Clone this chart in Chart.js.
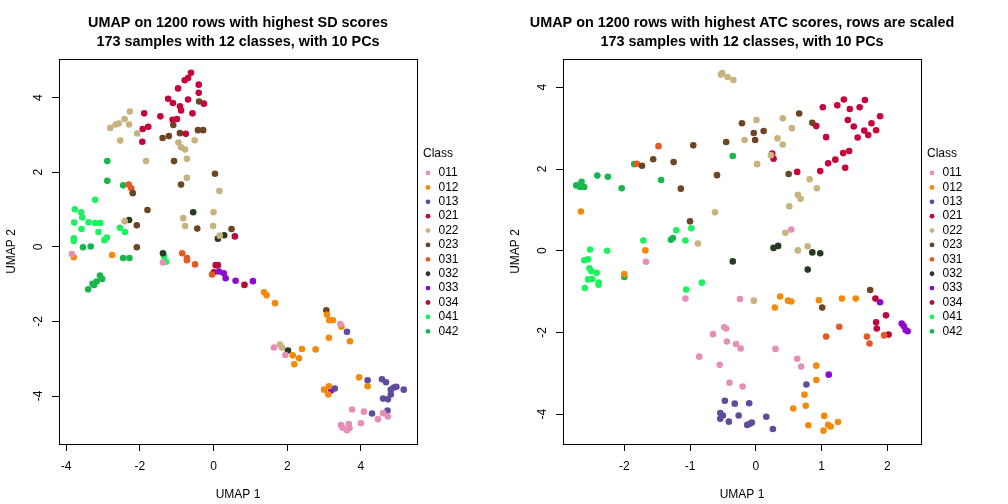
<!DOCTYPE html>
<html>
<head>
<meta charset="utf-8">
<script src="https://cdn.jsdelivr.net/npm/chart.js@4.4.0/dist/chart.umd.min.js"></script>
<style>
html, body { margin: 0; padding: 0; background: #fff; }
#wrap { position: relative; width: 1008px; height: 504px; }
canvas { position: absolute; top: 0; }
</style>
</head>
<body>
<div id="wrap">
  <canvas id="sdCanvas" width="504" height="504" style="left:0"></canvas>
  <canvas id="atcCanvas" width="504" height="504" style="left:504px"></canvas>
</div>
<script>
// classes and colours
const classes = ['011', '012', '013', '021', '022', '023', '031', '032', '033', '034', '041', '042'];
const classColors = ['#E68FB6', '#F58A0A', '#5F4C9E', '#C4063C', '#C8B27F', '#6E4522',
                     '#E35B22', '#283A26', '#8C0AD0', '#BA073C', '#1CF25E', '#19B64C'];

// left panel: UMAP on SD rows
const sd011 = [[-3.84,-0.19],[-1.37,-0.42],[1.64,-2.70],[1.95,-2.90],[3.44,-2.07],[3.76,-4.36],[4.08,-4.42],[3.46,-4.78],[3.50,-4.85],[3.67,-4.75],[3.62,-4.92],[3.69,-4.86],[4.00,-4.73],[4.46,-4.62],[4.60,-4.46],[4.73,-4.55]];
const sd012 = [[-3.79,-0.28],[-2.75,-0.22],[1.37,-1.22],[1.44,-1.30],[1.67,-1.51],[3.08,-1.82],[3.14,-1.97],[3.24,-1.97],[3.47,-2.14],[3.13,-2.44],[3.70,-2.53],[2.40,-2.74],[2.77,-2.75],[2.15,-2.91],[2.32,-2.99],[2.19,-3.15],[3.95,-3.50],[4.18,-3.74],[3.13,-3.74],[3.00,-3.83],[3.11,-3.96]];
const sd013 = [[3.62,-2.28],[4.18,-3.58],[4.57,-3.55],[4.68,-3.63],[4.81,-3.83],[4.89,-3.77],[4.96,-3.75],[5.16,-3.83],[4.81,-3.96],[4.60,-4.07],[4.73,-4.09],[3.29,-3.80],[4.30,-4.47],[4.72,-4.39]];
const sd021 = [[-0.61,4.67],[-0.69,4.53],[-0.78,4.47],[-0.96,4.25],[-0.40,4.35],[-0.40,4.13],[-1.23,3.97],[-1.10,3.86],[-0.69,3.95],[-0.91,3.77],[-0.26,3.84],[-0.88,3.66],[-0.57,3.58],[-1.88,3.58],[-1.44,3.50],[-1.11,3.41],[-0.99,3.43],[-1.77,3.22],[-1.92,3.16],[-0.75,3.03],[-1.93,2.82]];
const sd022 = [[-2.27,3.63],[-2.41,3.43],[-2.57,3.31],[-2.65,3.28],[-2.29,3.28],[-2.80,3.19],[-2.07,3.04],[-2.53,2.85],[-0.95,2.80],[-0.88,2.67],[-0.77,2.61],[-0.51,2.86],[-0.72,2.36],[-1.83,2.30],[-0.72,1.85],[0.16,1.50],[-0.82,0.77],[-0.77,0.56],[0.00,0.93],[-0.01,0.56],[-2.41,0.69],[0.17,0.30],[1.80,-2.62],[1.86,-2.70]];
const sd023 = [[-0.39,3.90],[-1.09,3.27],[-0.91,3.05],[-1.38,2.92],[-1.21,2.97],[-0.42,3.13],[-0.28,3.13],[-1.07,2.30],[0.04,1.96],[-0.88,1.67],[-2.19,1.44],[-1.79,0.99],[-2.08,0.58],[-0.44,0.49],[0.49,0.48],[-2.08,-0.01],[3.06,-1.70]];
const sd031 = [[-2.30,1.67],[-2.23,1.57],[-0.85,-0.17],[-0.72,-0.30],[-0.72,-0.36],[-0.50,-0.47],[-0.04,-0.74]];
const sd032 = [[-0.55,0.93],[-2.29,0.72],[-1.37,-0.17],[0.12,0.22],[0.29,0.31],[2.02,-2.78]];
const sd033 = [[0.15,-0.66],[0.28,-0.71],[0.33,-0.84],[0.60,-0.91],[1.07,-0.92],[3.19,-3.85]];
const sd034 = [[0.58,0.28],[0.06,-0.49],[0.12,-0.49],[0.01,-0.68],[0.84,-1.02]];
const sd041 = [[-3.76,1.01],[-3.59,0.93],[-3.56,0.79],[-3.21,1.26],[-3.78,0.65],[-3.39,0.66],[-3.21,0.64],[-3.07,0.64],[-3.58,0.48],[-3.12,0.40],[-2.54,0.51],[-2.40,0.40],[-3.79,0.23],[-3.79,0.16],[-2.89,0.25],[-2.96,0.18],[-1.34,-0.26],[-1.29,-0.40]];
const sd042 = [[-2.88,2.30],[-2.88,1.77],[-2.45,1.65],[-3.54,-0.01],[-3.33,0.01],[-2.45,-0.30],[-2.28,-0.30],[-3.40,-1.14],[-3.28,-0.99],[-3.24,-1.02],[-3.17,-0.93],[-3.08,-0.77],[-3.02,-0.86]];

// right panel: UMAP on ATC rows
const atc011 = [[-1.67,-0.27],[-1.07,-1.17],[-0.24,-1.18],[-0.48,-1.87],[-0.45,-1.90],[-0.65,-2.04],[-0.44,-2.22],[-0.30,-2.28],[-0.23,-2.39],[-0.86,-2.59],[-0.55,-2.79],[-0.40,-3.23],[-0.20,-3.32],[0.54,0.52],[0.30,-2.40],[0.63,-2.64],[0.69,-2.83]];
const atc012 = [[-2.66,0.96],[-1.68,0.01],[-2.00,-0.57],[0.37,-1.12],[0.29,-1.39],[0.49,-1.22],[0.54,-1.24],[0.96,-1.21],[1.31,-1.17],[1.52,-1.17],[0.92,-2.81],[0.92,-3.16],[0.74,-3.52],[0.76,-3.79],[0.57,-3.86],[1.04,-4.04],[0.80,-4.27],[1.10,-4.26],[1.14,-4.30],[1.25,-4.19],[1.03,-4.40]];
const atc013 = [[-0.47,-3.67],[-0.32,-3.74],[-0.10,-3.73],[-0.54,-3.97],[-0.50,-4.03],[-0.54,-4.11],[-0.26,-4.03],[-0.41,-4.18],[-0.13,-4.26],[-0.09,-4.23],[-0.06,-4.20],[0.16,-4.06],[0.26,-4.36],[0.77,-3.27]];
const atc021 = [[1.34,3.70],[1.66,3.69],[1.24,3.56],[1.43,3.47],[1.58,3.51],[1.02,3.51],[1.89,3.29],[1.40,3.20],[1.76,3.12],[0.92,3.05],[1.49,3.04],[1.65,2.94],[1.83,2.95],[1.71,2.83],[1.55,2.77],[1.07,2.78],[1.42,2.44],[1.33,2.39],[1.21,2.23],[1.10,2.14],[1.36,2.03],[0.98,1.95],[0.63,1.93]];
const atc022 = [[-0.51,4.35],[-0.53,4.31],[-0.43,4.25],[-0.34,4.18],[-0.17,2.71],[0.01,3.20],[-0.62,0.94],[-0.88,0.18],[-0.03,-1.22],[0.64,0.01],[0.79,0.11],[0.41,3.24],[0.33,2.75],[0.41,2.60],[0.55,3.00],[0.23,2.34],[0.02,2.12],[0.82,1.75],[0.93,1.53],[0.64,1.37],[0.68,1.27],[0.51,1.09],[0.45,0.44]];
const atc023 = [[-0.21,3.12],[-0.03,2.88],[-0.01,2.71],[-0.45,2.66],[-0.95,2.58],[-1.56,2.24],[-1.25,2.17],[-1.73,2.08],[-0.59,1.85],[-1.14,1.52],[-1.00,0.72],[0.12,2.93],[0.66,3.36],[0.86,3.13],[0.50,1.88],[1.74,-0.96],[1.01,-1.39]];
const atc031 = [[-1.48,2.56],[-1.81,2.13],[1.27,-1.86],[1.07,-2.10],[1.69,-2.10],[1.73,-2.27],[1.95,-2.07]];
const atc032 = [[0.27,0.07],[0.34,0.12],[0.86,-0.04],[0.98,-0.06],[0.79,-0.46],[-0.35,-0.26]];
const atc033 = [[1.89,-1.26],[2.22,-1.78],[2.25,-1.84],[2.28,-1.94],[2.31,-1.97],[1.11,-3.03]];
const atc034 = [[0.25,2.38],[0.27,2.25],[1.82,-1.17],[1.98,-1.58],[1.83,-1.75],[1.84,-1.90],[2.02,-2.05]];
const atc041 = [[-1.21,0.50],[-0.98,0.55],[-1.71,0.25],[-1.07,0.25],[-2.52,0.03],[-2.26,0.00],[-2.61,-0.23],[-2.55,-0.21],[-2.53,-0.43],[-2.50,-0.50],[-2.42,-0.54],[-2.55,-0.70],[-2.49,-0.69],[-2.39,-0.78],[-2.39,-0.83],[-2.60,-0.91],[-0.82,-0.78],[-1.06,-0.95]];
const atc042 = [[-0.35,2.32],[-1.85,2.12],[-2.41,1.84],[-2.25,1.81],[-2.65,1.69],[-2.73,1.60],[-2.67,1.56],[-2.61,1.56],[-2.04,1.53],[-1.44,1.73],[-1.29,0.27],[-1.26,0.31],[-2.00,-0.64]];

// axis ticks and titles
const sdXTicks = [-4, -2, 0, 2, 4];
const sdYTicks = [-4, -2, 0, 2, 4];
const atcXTicks = [-2, -1, 0, 1, 2];
const atcYTicks = [-4, -2, 0, 2, 4];
const sdTitle = ['UMAP on 1200 rows with highest SD scores', '173 samples with 12 classes, with 10 PCs'];
const atcTitle = ['UMAP on 1200 rows with highest ATC scores, rows are scaled', '173 samples with 12 classes, with 10 PCs'];

const FONT = '"Liberation Sans", Arial, Helvetica, sans-serif';
Chart.defaults.font.family = FONT;
Chart.defaults.color = '#000';

// R-style box, title, rotated y labels and legend
const rDecor = {
    id: 'rDecor',
    afterDraw(chart, args, opts) {
        const ctx = chart.ctx;
        const a = chart.chartArea;
        ctx.save();
        ctx.strokeStyle = '#000';
        ctx.lineWidth = 1;
        ctx.strokeRect(a.left + 0.5, a.top + 0.5, a.right - a.left, a.bottom - a.top);

        ctx.fillStyle = '#000';
        ctx.textAlign = 'center';
        ctx.textBaseline = 'alphabetic';
        ctx.font = 'bold 14.4px ' + FONT;
        const cx = (a.left + a.right) / 2;
        ctx.fillText(opts.title[0], cx, 26.5);
        ctx.fillText(opts.title[1], cx, 45.5);

        // y tick labels, parallel to the axis like R
        const yScale = chart.scales.y;
        ctx.font = '12px ' + FONT;
        ctx.textBaseline = 'middle';
        yScale.ticks.forEach(t => {
            const py = yScale.getPixelForValue(t.value);
            ctx.save();
            ctx.translate(a.left - 20, py);
            ctx.rotate(-Math.PI / 2);
            ctx.fillText(String(t.value), 0, 0);
            ctx.restore();
        });

        // legend
        ctx.textAlign = 'left';
        ctx.fillText('Class', a.right + 6, 154);
        classes.forEach((c, i) => {
            const ly = 173 + i * 14.39;
            ctx.beginPath();
            ctx.arc(a.right + 11, ly, 2.4, 0, Math.PI * 2);
            ctx.fillStyle = classColors[i];
            ctx.fill();
            ctx.fillStyle = '#000';
            ctx.fillText(c, a.right + 21.5, ly);
        });
        ctx.restore();
    }
};

function makeChart(canvasId, series, xr, yr, xTicks, yTicks, title) {
    const datasets = series.map((pts, i) => ({
        label: classes[i],
        data: pts.map(p => ({ x: p[0], y: p[1] })),
        backgroundColor: classColors[i],
        borderWidth: 0,
        pointRadius: 3.3,
        pointHoverRadius: 3.3
    }));
    const tickGrid = { drawOnChartArea: false, drawTicks: true, tickLength: 7, color: '#000', lineWidth: 1 };
    return new Chart(document.getElementById(canvasId).getContext('2d'), {
        type: 'scatter',
        data: { datasets: datasets },
        options: {
            responsive: false,
            animation: false,
            devicePixelRatio: 1,
            layout: { padding: { top: 59, right: 87, left: 0, bottom: 0 } },
            plugins: {
                legend: { display: false },
                tooltip: { enabled: false },
                rDecor: { title: title }
            },
            scales: {
                x: {
                    type: 'linear', min: xr[0], max: xr[1],
                    afterBuildTicks: s => { s.ticks = xTicks.map(v => ({ value: v })); },
                    afterFit: s => { s.height = 60; },
                    grid: tickGrid,
                    border: { display: false },
                    ticks: { font: { size: 12 }, color: '#000', padding: 8, maxRotation: 0 },
                    title: { display: true, text: 'UMAP 1', font: { size: 12 }, color: '#000', padding: { top: 0, bottom: 2 } }
                },
                y: {
                    type: 'linear', min: yr[0], max: yr[1],
                    afterBuildTicks: s => { s.ticks = yTicks.map(v => ({ value: v })); },
                    afterFit: s => { s.width = 59; },
                    grid: tickGrid,
                    border: { display: false },
                    ticks: { display: false },
                    title: { display: true, text: 'UMAP 2', font: { size: 12 }, color: '#000', padding: { top: 4, bottom: 0 } }
                }
            }
        },
        plugins: [rDecor]
    });
}

makeChart('sdCanvas',
    [sd011, sd012, sd013, sd021, sd022, sd023, sd031, sd032, sd033, sd034, sd041, sd042],
    [-4.19, 5.52], [-5.287, 5.038], sdXTicks, sdYTicks, sdTitle);
makeChart('atcCanvas',
    [atc011, atc012, atc013, atc021, atc022, atc023, atc031, atc032, atc033, atc034, atc041, atc042],
    [-2.932, 2.513], [-4.727, 4.692], atcXTicks, atcYTicks, atcTitle);
</script>
</body>
</html>
